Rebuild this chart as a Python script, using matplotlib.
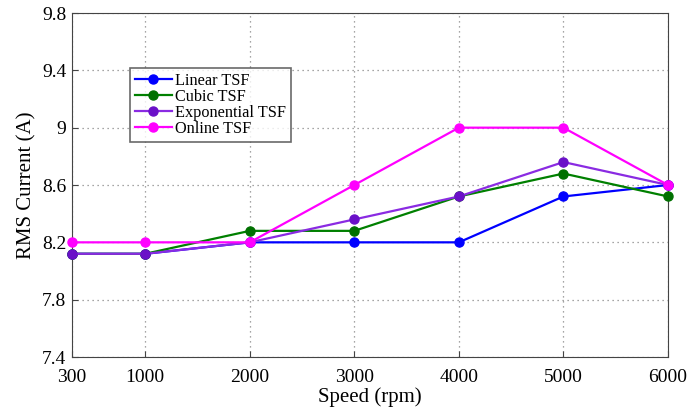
#!/usr/bin/env python3
import matplotlib
matplotlib.use('Agg')
import matplotlib.pyplot as plt

speed = [300, 1000, 2000, 3000, 4000, 5000, 6000]
linear = [8.12, 8.12, 8.2, 8.2, 8.2, 8.52, 8.6]
cubic = [8.12, 8.12, 8.28, 8.28, 8.52, 8.68, 8.52]
expo = [8.12, 8.12, 8.2, 8.36, 8.52, 8.76, 8.6]
online = [8.2, 8.2, 8.2, 8.6, 9.0, 9.0, 8.6]
yticks = [7.4, 7.8, 8.2, 8.6, 9.0, 9.4, 9.8]
ylabels = ['7.4', '7.8', '8.2', '8.6', '9', '9.4', '9.8']

plt.rcParams['font.family'] = ['Liberation Serif', 'DejaVu Serif']

fig = plt.figure(figsize=(6.93, 4.08), dpi=100)
ax = fig.add_axes([72/693, 1-357/408, 596/693, 344/408])

def plotline(y, c, mc, label):
    ax.plot(speed, y, color=c, marker='o', markersize=6.5, markerfacecolor=mc,
            markeredgecolor=mc, linewidth=1.6, label=label, clip_on=False, zorder=3)

plotline(linear, '#0000ff', '#0000ff', 'Linear TSF')
plotline(cubic, '#008000', '#007000', 'Cubic TSF')
plotline(expo, '#8a2be2', '#6a10c8', 'Exponential TSF')
plotline(online, '#ff00ff', '#ff00ff', 'Online TSF')

ax.set_xlim(300, 6000)
ax.set_ylim(7.4, 9.8)
ax.set_xticks(speed)
ax.set_xticklabels([str(s) for s in speed], fontsize=14)
ax.set_yticks(yticks)
ax.set_yticklabels(ylabels, fontsize=14)
ax.tick_params(direction='in', length=4, color='#444444')
ax.tick_params(axis='x', pad=9)
ax.tick_params(axis='y', pad=4)
ax.grid(True, linestyle=(0, (1, 3)), color='#888888', linewidth=0.9)
for s in ax.spines.values():
    s.set_color('#444444')
ax.set_xlabel('Speed (rpm)', fontsize=15, labelpad=0.5)
ax.set_ylabel('RMS Current (A)', fontsize=15, labelpad=4)

leg = ax.legend(loc='upper left', bbox_to_anchor=(0.097, 0.84), fontsize=11.7,
                frameon=True, fancybox=False, edgecolor='#444444',
                borderpad=0.3, labelspacing=0.0, handlelength=2.3,
                handletextpad=0.2, borderaxespad=0)
leg.get_frame().set_linewidth(1.2)

fig.savefig('out.png', dpi=100)
